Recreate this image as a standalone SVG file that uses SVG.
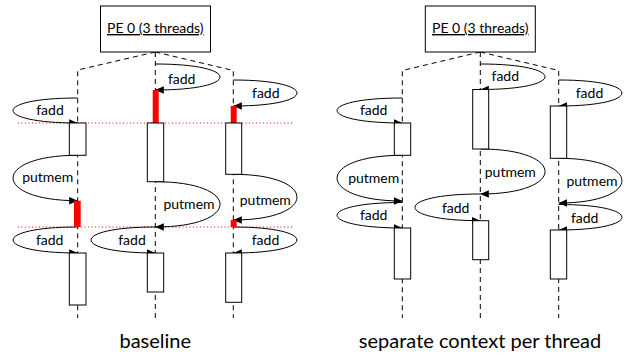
<svg xmlns="http://www.w3.org/2000/svg" width="624" height="356" viewBox="0 0 624 356">
<defs>
<marker id="ah" markerUnits="userSpaceOnUse" markerWidth="9" markerHeight="8" refX="8.5" refY="3.75" orient="auto">
<path d="M0,0 L8.5,3.75 L0,7.5 z" fill="#000"/>
</marker>
<style>
.life{stroke:#000;stroke-width:1;stroke-dasharray:5,4;fill:none}
.loop{stroke:#000;stroke-width:1;fill:none;marker-end:url(#ah)}
.box{fill:#fff;stroke:#000;stroke-width:1}
.red{fill:#ff0000;stroke:none}
.dot{stroke:#ff0000;stroke-width:1;stroke-dasharray:1,2.5;fill:none}
.lbl{font-family:Lato,"Liberation Sans",sans-serif;font-size:14px;fill:#000;text-anchor:middle}
.pe{font-family:Lato,"Liberation Sans",sans-serif;font-size:14px;fill:#000;text-anchor:middle;text-decoration:underline}
.cap{font-family:Lato,"Liberation Sans",sans-serif;font-size:20px;fill:#000;text-anchor:middle}
</style>
</defs>

<!-- ===== baseline panel ===== -->
<g id="lifelines-baseline">
<path class="life" d="M155.3,52 L77.7,70 L77.7,318"/>
<path class="life" d="M155.3,52 L233.3,70.5 L233.3,318"/>
<path class="life" d="M155.3,52 L155.3,318"/>
</g>
<g id="red-sync-lines">
<line class="dot" x1="18" y1="123" x2="292" y2="123"/>
<line class="dot" x1="18" y1="227" x2="292" y2="227"/>
</g>
<g id="connectors-baseline">
<path class="loop" d="M77.7,98 C-8.5,98 -8.5,123 77.7,123"/>
<path class="loop" d="M77.7,155.3 C-8.5,155.3 -8.5,200.7 77.7,200.7"/>
<path class="loop" d="M77.7,227 C-8.5,227 -8.5,253 77.7,253"/>
<path class="loop" d="M155.3,64 C241.6,64 241.6,90 155.3,90"/>
<path class="loop" d="M155.3,181.7 C241.6,181.7 241.6,227 155.3,227"/>
<path class="loop" d="M155.3,227 C69.6,227 69.6,253 155.3,253"/>
<path class="loop" d="M233.3,80 C318.2,80 318.2,106 233.3,106"/>
<path class="loop" d="M233.3,174.3 C318.2,174.3 318.2,220 233.3,220"/>
<path class="loop" d="M233.3,227 C318.2,227 318.2,253 233.3,253"/>
</g>
<g id="thread-0-baseline">
<rect class="box" x="69.3" y="123" width="16.7" height="32.3"/>
<rect class="red" x="74" y="200.7" width="6.7" height="26.3"/>
<rect class="box" x="69.3" y="253" width="16.7" height="52"/>
</g>
<g id="thread-1-baseline">
<rect class="red" x="152.7" y="90" width="6" height="33"/>
<rect class="box" x="147.3" y="123" width="16.4" height="58.7"/>
<rect class="box" x="147.3" y="253" width="16.4" height="39"/>
</g>
<g id="thread-2-baseline">
<rect class="red" x="230.7" y="106" width="6" height="17"/>
<rect class="box" x="225.7" y="123" width="16" height="51.3"/>
<rect class="red" x="230.7" y="220" width="6" height="7"/>
<rect class="box" x="225.7" y="253" width="16" height="49.3"/>
</g>
<g id="labels-baseline">
<text class="lbl" x="50" y="115">fadd</text>
<text class="lbl" x="47.7" y="182">putmem</text>
<text class="lbl" x="49.7" y="245">fadd</text>
<text class="lbl" x="181.7" y="84">fadd</text>
<text class="lbl" x="189" y="209">putmem</text>
<text class="lbl" x="132" y="245">fadd</text>
<text class="lbl" x="265.8" y="98">fadd</text>
<text class="lbl" x="265.3" y="205">putmem</text>
<text class="lbl" x="265.5" y="245">fadd</text>
</g>
<g id="pe-baseline">
<rect class="box" x="100.5" y="6" width="110" height="46"/>
<text class="pe" x="155.3" y="33">PE 0 (3 threads)</text>
</g>
<text class="cap" x="155.3" y="348">baseline</text>

<!-- ===== separate context panel ===== -->
<g id="lifelines-separate">
<path class="life" d="M480.3,52 L402.3,70.5 L402.3,318"/>
<path class="life" d="M480.3,52 L558.7,70.5 L558.7,318"/>
<path class="life" d="M480.3,52 L480.3,318"/>
</g>
<g id="connectors-separate">
<path class="loop" d="M402.3,98 C315.3,98 315.3,123 402.3,123"/>
<path class="loop" d="M402.3,155.3 C315.3,155.3 315.3,201 402.3,201"/>
<path class="loop" d="M402.3,202.5 C315.3,202.5 315.3,228 402.3,228"/>
<path class="loop" d="M480.3,64 C566.6,64 566.6,89.5 480.3,89.5"/>
<path class="loop" d="M480.3,149 C566.6,149 566.6,194 480.3,194"/>
<path class="loop" d="M480.3,194 C393.2,194 393.2,220.7 480.3,220.7"/>
<path class="loop" d="M558.7,80 C643,80 643,106 558.7,106"/>
<path class="loop" d="M558.7,158.3 C643,158.3 643,203 558.7,203"/>
<path class="loop" d="M558.7,204.5 C643,204.5 643,230 558.7,230"/>
</g>
<g id="thread-0-separate">
<rect class="box" x="394.3" y="123" width="16.4" height="32.3"/>
<rect class="box" x="394.3" y="228" width="16.4" height="51"/>
</g>
<g id="thread-1-separate">
<rect class="box" x="472.7" y="89.5" width="16" height="59.5"/>
<rect class="box" x="472.7" y="220.7" width="16" height="39"/>
</g>
<g id="thread-2-separate">
<rect class="box" x="550.3" y="106" width="16.4" height="52.3"/>
<rect class="box" x="550.3" y="230" width="16.4" height="49"/>
</g>
<g id="labels-separate">
<text class="lbl" x="373.7" y="115">fadd</text>
<text class="lbl" x="373.7" y="183">putmem</text>
<text class="lbl" x="373.7" y="220">fadd</text>
<text class="lbl" x="505.3" y="81">fadd</text>
<text class="lbl" x="510.3" y="177">putmem</text>
<text class="lbl" x="455.7" y="213">fadd</text>
<text class="lbl" x="589.5" y="98">fadd</text>
<text class="lbl" x="592" y="186">putmem</text>
<text class="lbl" x="584.7" y="223">fadd</text>
</g>
<g id="pe-separate">
<rect class="box" x="425.3" y="6" width="110" height="46"/>
<text class="pe" x="480.3" y="33">PE 0 (3 threads)</text>
</g>
<text class="cap" x="480" y="348">separate context per thread</text>
</svg>
